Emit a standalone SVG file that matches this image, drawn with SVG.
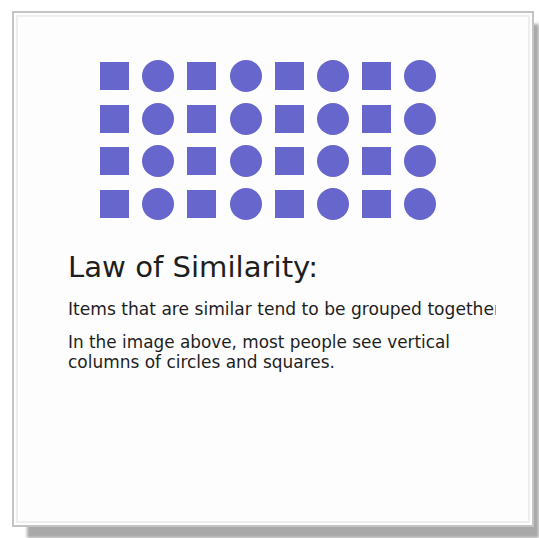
<svg xmlns="http://www.w3.org/2000/svg" width="539" height="538" viewBox="0 0 539 538">
  <defs>
    <filter id="blur" x="-5%" y="-5%" width="110%" height="110%">
      <feGaussianBlur stdDeviation="1.5"/>
    </filter>
    <clipPath id="textclip">
      <rect x="0" y="0" width="496" height="538"/>
    </clipPath>
    <style>
      .sq { fill: #6666cc; }
      .ci { fill: #6666cc; }
      .title { font-family: "DejaVu Sans", Verdana, sans-serif; font-size: 29px; fill: #1e1e1e; }
      .body { font-family: "DejaVu Sans", Verdana, sans-serif; font-size: 17px; fill: #1e1e1e; }
    </style>
  </defs>
  <rect width="539" height="538" fill="#ffffff"/>
  <!-- card shadow and card -->
  <rect x="27" y="24" width="512" height="514" fill="#a9a9a9" filter="url(#blur)"/>
  <rect x="13" y="12" width="520" height="514" fill="#fdfdfd" stroke="#c4c4c4" stroke-width="2"/>
  <rect x="17" y="16" width="512" height="506" fill="none" stroke="#eeeeee" stroke-width="2"/>

  <g id="grid">
    <g id="row1">
      <rect class="sq" x="100" y="62" width="29" height="28"/>
      <circle class="ci" cx="158" cy="76" r="16"/>
      <rect class="sq" x="187" y="62" width="29" height="28"/>
      <circle class="ci" cx="246" cy="76" r="16"/>
      <rect class="sq" x="275" y="62" width="29" height="28"/>
      <circle class="ci" cx="333" cy="76" r="16"/>
      <rect class="sq" x="362" y="62" width="29" height="28"/>
      <circle class="ci" cx="420" cy="76" r="16"/>
    </g>
    <g id="row2">
      <rect class="sq" x="100" y="105" width="29" height="28"/>
      <circle class="ci" cx="158" cy="119" r="16"/>
      <rect class="sq" x="187" y="105" width="29" height="28"/>
      <circle class="ci" cx="246" cy="119" r="16"/>
      <rect class="sq" x="275" y="105" width="29" height="28"/>
      <circle class="ci" cx="333" cy="119" r="16"/>
      <rect class="sq" x="362" y="105" width="29" height="28"/>
      <circle class="ci" cx="420" cy="119" r="16"/>
    </g>
    <g id="row3">
      <rect class="sq" x="100" y="147" width="29" height="28"/>
      <circle class="ci" cx="158" cy="161" r="16"/>
      <rect class="sq" x="187" y="147" width="29" height="28"/>
      <circle class="ci" cx="246" cy="161" r="16"/>
      <rect class="sq" x="275" y="147" width="29" height="28"/>
      <circle class="ci" cx="333" cy="161" r="16"/>
      <rect class="sq" x="362" y="147" width="29" height="28"/>
      <circle class="ci" cx="420" cy="161" r="16"/>
    </g>
    <g id="row4">
      <rect class="sq" x="100" y="190" width="29" height="28"/>
      <circle class="ci" cx="158" cy="204" r="16"/>
      <rect class="sq" x="187" y="190" width="29" height="28"/>
      <circle class="ci" cx="246" cy="204" r="16"/>
      <rect class="sq" x="275" y="190" width="29" height="28"/>
      <circle class="ci" cx="333" cy="204" r="16"/>
      <rect class="sq" x="362" y="190" width="29" height="28"/>
      <circle class="ci" cx="420" cy="204" r="16"/>
    </g>
  </g>

  <g id="texts">
    <text class="title" x="68" y="277" textLength="250" lengthAdjust="spacingAndGlyphs">Law of Similarity:</text>
    <g clip-path="url(#textclip)">
      <text class="body" x="68" y="315" textLength="433" lengthAdjust="spacingAndGlyphs">Items that are similar tend to be grouped together</text>
    </g>
    <text class="body" x="68" y="348" textLength="382" lengthAdjust="spacingAndGlyphs">In the image above, most people see vertical</text>
    <text class="body" x="68" y="368" textLength="267" lengthAdjust="spacingAndGlyphs">columns of circles and squares.</text>
  </g>
</svg>
